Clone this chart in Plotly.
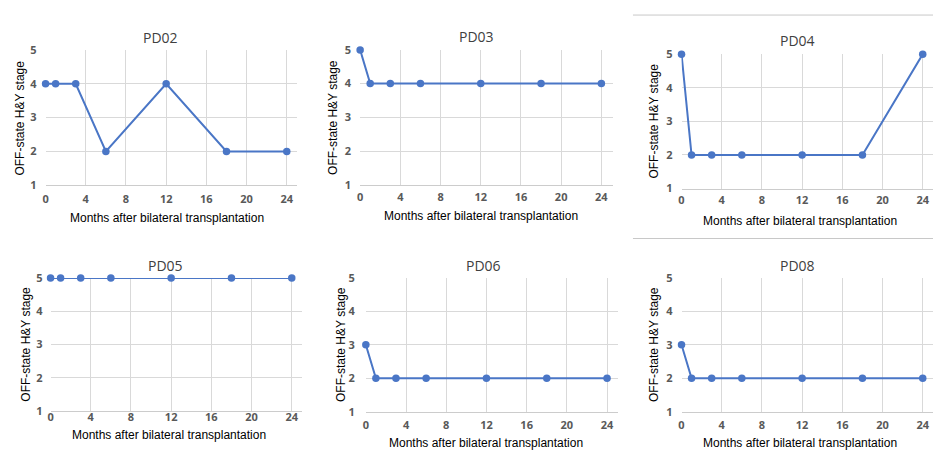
import plotly.graph_objects as go

months = [0, 1, 3, 6, 12, 18, 24]
patients = ["PD02", "PD03", "PD04", "PD05", "PD06", "PD08"]
pd02 = [4, 4, 4, 2, 4, 2, 2]
pd03 = [5, 4, 4, 4, 4, 4, 4]
pd04 = [5, 2, 2, 2, 2, 2, 5]
pd05 = [5, 5, 5, 5, 5, 5, 5]
pd06 = [3, 2, 2, 2, 2, 2, 2]
pd08 = [3, 2, 2, 2, 2, 2, 2]
series = [pd02, pd03, pd04, pd05, pd06, pd08]
x_ticks = [0, 4, 8, 12, 16, 20, 24]
y_ticks = [1, 2, 3, 4, 5]
x_title = "Months after bilateral transplantation"
y_title = "OFF-state H&Y stage"

W, H = 933, 459
# pixel boxes of each plot area: (left, right, top, bottom)
boxes = [
    (42.7, 295.0, 43.3, 183.3),
    (358.3, 611.7, 43.3, 182.7),
    (680.7, 933.0, 47.7, 186.7),
    (47.7, 300.0, 279.0, 416.7),
    (364.0, 616.7, 279.0, 417.3),
    (680.7, 933.0, 279.0, 417.3),
]
# pixel positions of title / x-title / y-title
title_pos = [(158, 30.7), (475, 29.3), (796.7, 33.3), (163.3, 266), (481.7, 266), (796.7, 266)]
xt_pos = [(165, 216.7), (480, 215), (800, 220), (167, 441.7), (485, 450), (800, 450)]
yt_pos = [17, 331.7, 653.3, 23.3, 339.3, 653.3]
xtick_gap = [3, 2, 1, -4, 3, 3]
ytick_gap = [8, 8, 8, 7, 10, 8]

BLUE = "#4a76c6"
fig = go.Figure()
annotations = []
for i, (name, ys) in enumerate(zip(patients, series)):
    l, r, t, b = boxes[i]
    xa = "xaxis" if i == 0 else f"xaxis{i+1}"
    ya = "yaxis" if i == 0 else f"yaxis{i+1}"
    xr = "x" if i == 0 else f"x{i+1}"
    yr = "y" if i == 0 else f"y{i+1}"
    px_per = 242.0 / 24.0
    xmax = (r - l) / px_per
    fig.add_trace(go.Scatter(
        x=months, y=ys, mode="lines+markers", xaxis=xr, yaxis=yr,
        line=dict(color=BLUE, width=2),
        marker=dict(color=BLUE, size=7.5),
        cliponaxis=False, showlegend=False,
    ))
    fig.layout[xa] = dict(
        domain=[l / W, min(r / W, 1.0)], range=[0, xmax], anchor=yr,
        tickvals=x_ticks, showgrid=True, gridcolor="#d9d9d9", gridwidth=1,
        zeroline=False, showline=True, linecolor="#cccccc", linewidth=1,
        tickfont=dict(family="Open Sans", size=11, color="#595959", weight="bold"),
        ticks="", ticklabelstandoff=xtick_gap[i], fixedrange=True,
    )
    fig.layout[ya] = dict(
        domain=[1 - b / H, 1 - t / H], range=[1, 5], anchor=xr,
        tickvals=y_ticks, showgrid=True, gridcolor="#d9d9d9", gridwidth=1,
        zeroline=False, showline=False,
        tickfont=dict(family="Open Sans", size=11, color="#595959", weight="bold"),
        ticks="", ticklabelstandoff=ytick_gap[i], fixedrange=True,
    )
    tx, ty = title_pos[i]
    annotations.append(dict(text=name, x=tx / W, y=1 - ty / H, xref="paper", yref="paper",
                            showarrow=False, xanchor="center", yanchor="middle",
                            font=dict(family="Open Sans", size=14, color="#404040")))
    ax, ay = xt_pos[i]
    annotations.append(dict(text=x_title, x=ax / W, y=1 - ay / H, xref="paper", yref="paper",
                            showarrow=False, xanchor="center", yanchor="middle",
                            font=dict(family="Liberation Sans", size=12, color="#000000")))
    annotations.append(dict(text=y_title, x=yt_pos[i] / W, y=1 - ((t + b) / 2) / H,
                            xref="paper", yref="paper", textangle=-90,
                            showarrow=False, xanchor="center", yanchor="middle",
                            font=dict(family="Liberation Sans", size=12, color="#000000")))

shapes = [
    dict(type="line", xref="paper", yref="paper", x0=632 / W, x1=1, y0=1 - 7.3 / H, y1=1 - 7.3 / H,
         line=dict(color="#c8c8c8", width=1)),
    dict(type="line", xref="paper", yref="paper", x0=632 / W, x1=1, y0=1 - 238.3 / H, y1=1 - 238.3 / H,
         line=dict(color="#c8c8c8", width=1)),
]

fig.update_layout(
    width=W, height=H, margin=dict(l=0, r=0, t=0, b=0),
    paper_bgcolor="white", plot_bgcolor="white",
    annotations=annotations, shapes=shapes, showlegend=False,
)
fig.write_html("out.html")
